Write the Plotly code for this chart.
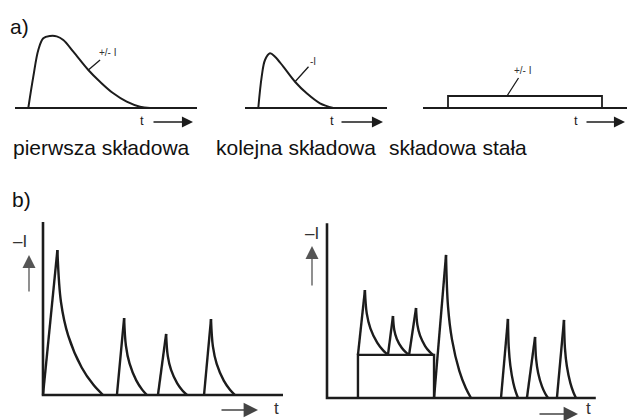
import plotly.graph_objects as go

W, H = 630, 420
INK = "#1c1c1c"
FONT = "Liberation Sans, Arial, sans-serif"

# ---------------- data (t, I in arbitrary schematic units) ----------------
# a) first component (hump)
a1_t = [1.33, 1.83, 2.33, 2.83, 3.5, 4.17, 4.83, 5.83, 7.33, 8.5, 9.83, 11.17, 12.5, 13.5]
a1_i = [0.0, 4.35, 8.06, 9.68, 10.0, 9.95, 9.44, 7.82, 5.28, 3.65, 2.04, 0.88, 0.18, 0.0]
a1_len = 18.2
# a) next component
a2_t = [1.33, 1.67, 2.0, 2.5, 3.0, 3.83, 5.0, 6.17, 7.5, 8.83]
a2_i = [0.0, 4.35, 6.67, 7.6, 7.13, 5.74, 3.65, 2.04, 0.65, 0.0]
a2_len = 14.2
# a) constant component
a3_start, a3_end, a3_level = 2.5, 17.9, 1.67
a3_len = 20.4

captions = ["pierwsza składowa", "kolejna składowa", "składowa stała"]
curve_labels = ["+/- I", "-I", "+/- I"]

# decay shape read from the first spike of b) (fractions of duration / height)
decay_frac_t = [0.0, 0.079, 0.237, 0.532, 0.79, 1.0]
decay_frac_i = [1.0, 0.64, 0.41, 0.19, 0.07, 0.0]

# b) left
b1_start = [0.0, 3.08, 4.79, 6.71]
b1_peak_t = [0.6, 3.38, 5.13, 7.0]
b1_peak_i = [8.38, 4.45, 3.53, 4.39]
b1_end = [2.5, 4.33, 6.0, 8.0]
b1_base = [0.0, 0.0, 0.0, 0.0]
b1_axis_len, b1_axis_h = 10.0, 10.0

# b) right
b2_start = [1.29, 2.54, 3.42, 4.46, 7.25, 8.33, 9.58]
b2_peak_t = [1.58, 2.75, 3.71, 4.96, 7.54, 8.67, 9.875]
b2_peak_i = [6.24, 4.74, 5.2, 8.27, 4.57, 3.53, 4.51]
b2_end = [2.54, 3.42, 4.42, 6.0, 7.96, 9.21, 10.375]
b2_base = [2.49, 2.49, 2.49, 0.0, 0.0, 0.0, 0.0]
b2_rect = [1.29, 4.46, 2.49]
b2_axis_len, b2_axis_h = 11.2, 10.1

# ---------------- layout geometry (pixels) ----------------
panels = {
    "a1": dict(px=15, py=108, sx=10, sy=7.2, xr=[-0.5, 18.7], yr=[-1, 11]),
    "a2": dict(px=245, py=108, sx=10, sy=7.2, xr=[-0.5, 14.7], yr=[-1, 11]),
    "a3": dict(px=423, py=108, sx=10, sy=7.2, xr=[-0.3, 20.6], yr=[-1, 11]),
    "b1": dict(px=43, py=395, sx=24, sy=17.3, xr=[-0.4, 10.4], yr=[-0.4, 10.4]),
    "b2": dict(px=327, py=398, sx=24, sy=17.3, xr=[-0.4, 11.6], yr=[-0.4, 10.4]),
}
names = ["a1", "a2", "a3", "b1", "b2"]

fig = go.Figure()
layout_axes = {}
ref = {}
for k, n in enumerate(names):
    p = panels[n]
    dx = [(p["px"] + p["xr"][0] * p["sx"]) / W, (p["px"] + p["xr"][1] * p["sx"]) / W]
    dy = [1 - (p["py"] - p["yr"][0] * p["sy"]) / H, 1 - (p["py"] - p["yr"][1] * p["sy"]) / H]
    sfx = "" if k == 0 else str(k + 1)
    layout_axes["xaxis" + sfx] = dict(domain=dx, range=p["xr"], visible=False, anchor="y" + sfx, fixedrange=True)
    layout_axes["yaxis" + sfx] = dict(domain=dy, range=p["yr"], visible=False, anchor="x" + sfx, fixedrange=True)
    ref[n] = ("x" + sfx, "y" + sfx)


def line(n, xs, ys, w=2.0, shape="linear", color=INK):
    fig.add_trace(go.Scatter(x=xs, y=ys, mode="lines", xaxis=ref[n][0], yaxis=ref[n][1],
                             line=dict(color=color, width=w, shape=shape, smoothing=1.0),
                             hoverinfo="skip", showlegend=False))


def px_x(v):
    return v / W


def px_y(v):
    return 1 - v / H


def text_at(px, py, txt, size, color="#222", xanchor="center", yanchor="middle"):
    return dict(xref="paper", yref="paper", x=px_x(px), y=px_y(py), text=txt, showarrow=False,
                xanchor=xanchor, yanchor=yanchor, borderpad=0,
                font=dict(family=FONT, size=size, color=color))


def arrow_px(tip_x, tip_y, tail_x, tail_y, size, width, color):
    return dict(xref="paper", yref="paper", x=px_x(tip_x), y=px_y(tip_y), ax=tail_x - tip_x, ay=tail_y - tip_y,
                text="", showarrow=True, arrowhead=2, arrowsize=size, arrowwidth=width, arrowcolor=color,
                standoff=0, startstandoff=0)


# ---- a) panels ----
line("a1", [0, a1_len], [0, 0], 1.8)
line("a1", a1_t, a1_i, 2.0, "spline")
line("a2", [0, a2_len], [0, 0], 1.8)
line("a2", a2_t, a2_i, 2.0, "spline")
line("a3", [0, a3_len], [0, 0], 1.8)
line("a3", [a3_start, a3_start, a3_end, a3_end], [0, a3_level, a3_level, 0], 1.8)

ann = []
# curve labels with leader lines
label_pts = [("a1", 7.33, 5.28, 20, -17), ("a2", 5.0, 3.65, 18, -20), ("a3", 8.4, a3_level, 16, -25)]
for (n, x, y, ax, ay), txt in zip(label_pts, curve_labels):
    ann.append(dict(xref=ref[n][0], yref=ref[n][1], x=x, y=y, ax=ax, ay=ay, text=txt,
                    showarrow=True, arrowhead=0, arrowwidth=1.3, arrowcolor=INK,
                    font=dict(family="Arial, Liberation Sans", size=10, color="#333")))

# t arrows in a) (pixel placement)
for tx, tail, tip in [(142, 152, 193), (332, 340, 383), (576, 585, 625)]:
    ann.append(arrow_px(tip, 122, tail, 122, 1.7, 1.3, INK))
    ann.append(text_at(tx, 121, "t", 13, INK))

# captions
for txt, px in zip(captions, [12, 215, 388]):
    ann.append(text_at(px, 147, txt, 21, "#111", "left"))
for txt, px, py in [("a)", 9, 26), ("b)", 11, 199)]:
    ann.append(text_at(px, py, txt, 21, "#111", "left"))


# ---- b) panels ----
def spikes(n, starts, pts, pis, ends, bases):
    rise_x, rise_y, dec_x, dec_y = [], [], [], []
    for s, pt, pi, e, b in zip(starts, pts, pis, ends, bases):
        rise_x += [s, pt, None]
        rise_y += [b, pi, None]
        dec_x += [pt + f * (e - pt) for f in decay_frac_t] + [None]
        dec_y += [b + g * (pi - b) for g in decay_frac_i] + [None]
    line(n, rise_x, rise_y, 2.4)
    line(n, dec_x, dec_y, 2.4, "spline")


line("b1", [0, 0, b1_axis_len], [b1_axis_h, 0, 0], 2.6)
spikes("b1", b1_start, b1_peak_t, b1_peak_i, b1_end, b1_base)

line("b2", [0, 0, b2_axis_len], [b2_axis_h, 0, 0], 2.6)
line("b2", [b2_rect[0], b2_rect[0], b2_rect[1], b2_rect[1]], [0, b2_rect[2], b2_rect[2], 0], 2.4)
spikes("b2", b2_start, b2_peak_t, b2_peak_i, b2_end, b2_base)

# axis labels / arrows in b) (pixel placement)
for lx, ly, arx, ary0, ary1, bt0, bt1, by, tx in [
    (20, 242, 29, 293, 255, 220, 258, 410, 276),
    (312, 233, 312, 287, 246, 538, 578, 414, 588),
]:
    ann.append(text_at(lx, ly, "–I", 17, "#333"))
    ann.append(arrow_px(arx, ary1, arx, ary0, 2.0, 1.3, "#555"))
    ann.append(arrow_px(bt1, by, bt0, by, 1.8, 1.6, "#444"))
    ann.append(text_at(tx, min(by + 9, 419), "t", 17, "#333", "center", "bottom"))

fig.update_layout(width=W, height=H, margin=dict(l=0, r=0, t=0, b=0),
                  paper_bgcolor="white", plot_bgcolor="rgba(0,0,0,0)",
                  annotations=ann, showlegend=False, **layout_axes)

fig.write_html("out.html", config={"displayModeBar": False},
               post_script="document.body.style.margin='0';document.body.style.overflow='hidden';")
